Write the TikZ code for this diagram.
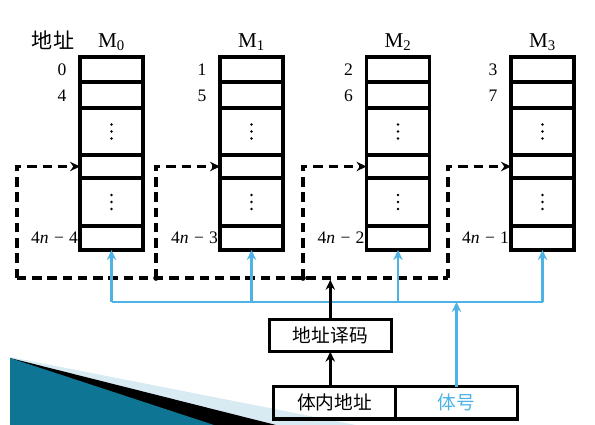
\documentclass[tikz,border=0pt]{standalone}
\usepackage{fontspec}
\setmainfont{Liberation Serif}
\newfontfamily\cjk{Noto Sans CJK SC}
\usetikzlibrary{positioning,arrows.meta}
\definecolor{busblue}{RGB}{77,179,228}
\definecolor{tealdark}{RGB}{14,118,148}
\definecolor{teallight}{RGB}{96,192,222}
\definecolor{paleblue}{RGB}{216,234,242}
\tikzset{
  cell/.style={draw,line width=2.8pt,minimum width=1.89cm,inner sep=0pt,outer sep=0pt},
  unit/.style={draw,line width=2.8pt,minimum width=3.66cm,minimum height=0.97cm,inner sep=0pt,outer sep=0pt,font=\cjk\fontsize{16}{16}\selectfont},
  dashbus/.style={line width=2.6pt,dash pattern=on 8pt off 5pt},
  bluebus/.style={busblue,line width=2.4pt},
  tip/.style={-{Stealth[length=8.5pt,width=8pt]}},
}
\begin{document}
\begin{tikzpicture}[x=0.03cm,y=-0.03cm]
\useasboundingbox (0,0) rectangle (595,425);
% corner decoration
\fill[paleblue] (10,357) -- (356,425) -- (10,425) -- cycle;
\fill[black] (10,358) -- (276,425) -- (10,425) -- cycle;
\shade[left color=tealdark,middle color=teallight,right color=tealdark,shading angle=110] (10,358) -- (214,425) -- (10,425) -- cycle;
\node[font=\cjk\fontsize{18}{18}\selectfont] (addr) at (53,40) {地址};
% memory banks
\foreach \i/\cx/\a/\b/\dx/\k in {0/111.5/0/4/17/4,1/251.5/1/5/156/3,2/398/2/6/303/2,3/542.5/3/7/448/1}{
  \node[cell,minimum height=0.75cm,anchor=north] (M\i-1) at (\cx,57) {};
  \node[cell,minimum height=0.78cm,below=0pt of M\i-1] (M\i-2) {};
  \node[cell,minimum height=1.41cm,below=0pt of M\i-2] (M\i-3) {};
  \node[cell,minimum height=0.69cm,below=0pt of M\i-3] (M\i-4) {};
  \node[cell,minimum height=1.44cm,below=0pt of M\i-4] (M\i-5) {};
  \node[cell,minimum height=0.72cm,below=0pt of M\i-5] (M\i-6) {};
  \foreach \s in {-6,0,6}{
    \fill ([yshift=\s pt]M\i-3.center) circle (1.2pt);
    \fill ([yshift=\s pt]M\i-5.center) circle (1.2pt);
  }
  \node[font=\fontsize{18}{18}\selectfont] (t\i) at (\cx,42) {M\textsubscript{\i}};
  \node[font=\fontsize{15}{15}\selectfont] (a\i) at (\cx-49.5,69.5) {\a};
  \node[font=\fontsize{15}{15}\selectfont] (b\i) at (\cx-49.5,96) {\b};
  \node[font=\fontsize{15}{15}\selectfont,anchor=east,inner sep=1.5pt] (n\i) at (M\i-6.west) {4\textit{n}\hspace{0.3em}−\hspace{0.3em}\k};
  \coordinate (d\i) at (\dx,278);
  \draw[dashbus,tip] (d\i) |- (M\i-4.west);
}
\draw[dashbus] (d0) -- (d3);
\fill (d1) circle (2.4pt);
\fill (d2) circle (2.4pt);
% blue bank-select bus
\coordinate (bus) at (111.5,302);
\draw[bluebus] (M0-6.south |- bus) -- (M3-6.south |- bus);
\foreach \i in {0,...,3}
  \draw[bluebus,tip] (M\i-6.south |- bus) -- (M\i-6.south);
% address register and decoder
\node[unit] (dec) at (330.3,335.5) {地址译码};
\node[unit] (inner) at (334.5,402.8) {体内地址};
\node[unit,text=busblue,right=0pt of inner] (bank) {体号};
\draw[line width=2.6pt,tip] (dec.south |- inner.north) -- (dec.south);
\draw[line width=2.6pt,tip,shorten >=1.5pt] (dec.north) -- (dec.north |- d0);
\draw[bluebus,tip] (bank.north) -- (bank.north |- bus);
\end{tikzpicture}
\end{document}
